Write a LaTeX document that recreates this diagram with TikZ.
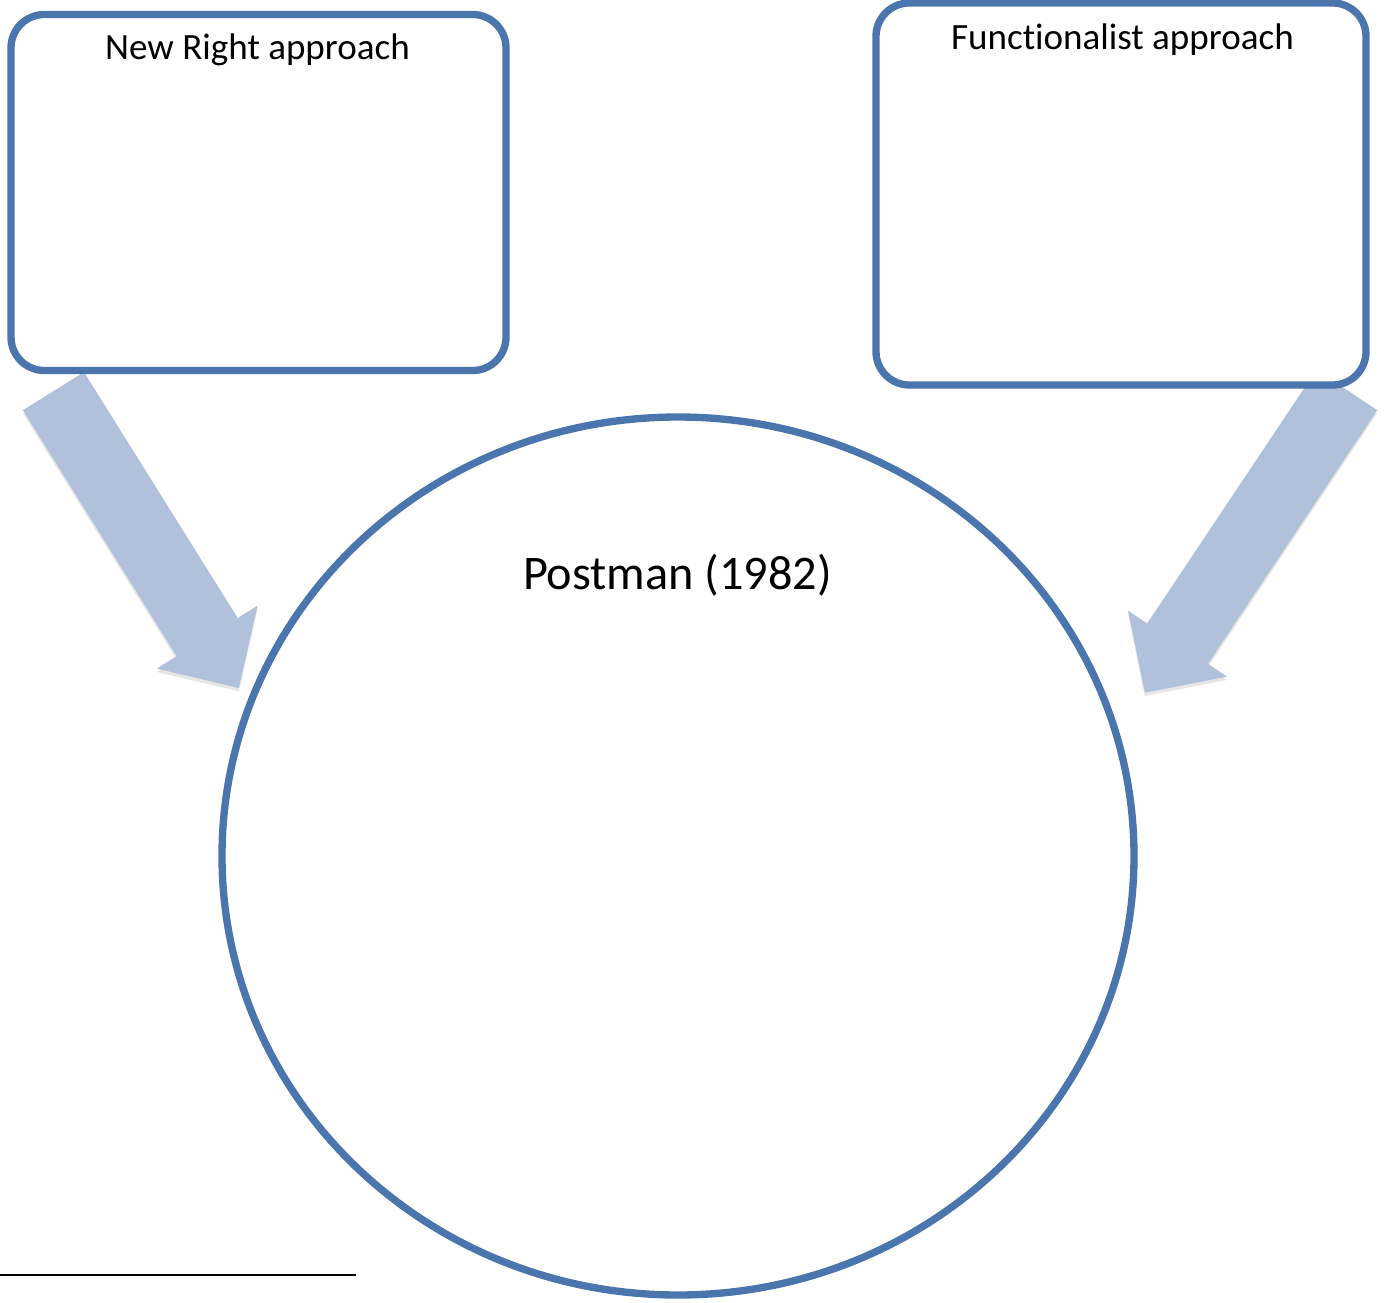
\documentclass[tikz,border=0pt]{standalone}
\usepackage{fontspec}
\setmainfont{Carlito}[Ligatures=NoCommon]
\usetikzlibrary{shapes.geometric,shadows}
\definecolor{frameblue}{RGB}{74,117,173}
\definecolor{flowblue}{RGB}{177,193,220}
\begin{document}
\begin{tikzpicture}[x=0.75pt,y=-0.75pt,
  softshadow/.style={drop shadow={opacity=0.2, shadow xshift=0pt, shadow yshift=-2.5pt}},
  panel/.style={draw=frameblue, line width=5.5pt, fill=white, rounded corners=25pt,
    inner sep=0pt, softshadow},
  hub/.style={ellipse, draw=frameblue, line width=5.5pt, fill=white, inner sep=0pt,
    minimum width=684pt, minimum height=658.5pt, softshadow},
  flow/.style={fill=flowblue, softshadow},
  title/.style={anchor=base, font=\fontsize{27.8}{33}\selectfont},
  bigtitle/.style={anchor=base, font=\fontsize{36.2}{44}\selectfont}]

% page extent
\useasboundingbox (0,0) rectangle (1387,1302);

% block arrows feeding the central circle (drawn first, tails tuck under the boxes)
\fill[flow] (22.9,410.2) -- (84.0,372.1) -- (237.7,618.0) -- (257.6,605.5)
  -- (238.9,688.0) -- (156.7,668.6) -- (176.6,656.1) -- cycle;
\fill[flow] (1377.2,410.2) -- (1316.5,369.7) -- (1147.2,623.4) -- (1128.0,610.6)
  -- (1144.8,692.7) -- (1227.1,676.6) -- (1207.9,663.9) -- cycle;

% the two approach boxes
\node[panel, minimum width=371.25pt, minimum height=267pt] (newright) at (258.5,192.5) {};
\node[panel, minimum width=367.5pt, minimum height=286.5pt] (functional) at (1121,194) {};

% central circle
\node[hub] (postman) at (678,856) {};

% labels
\node[title] (newrighttext) at (257.5,60) {New Right approach};
\node[title] (functionaltext) at (1122.5,50) {Functionalist approach};
\node[bigtitle] (postmantext) at (677.5,589) {Postman (1982)};

% footnote rule
\draw[line width=1.5pt] (0,1275) -- (356,1275);
\end{tikzpicture}
\end{document}
